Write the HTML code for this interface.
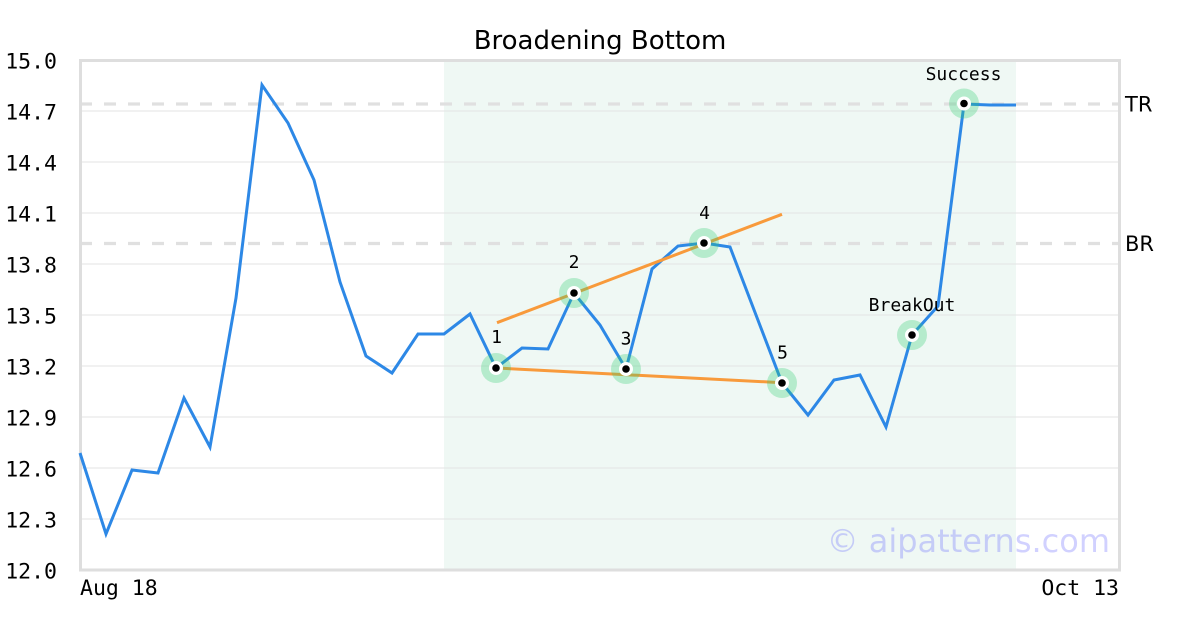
<!DOCTYPE html>
<html><head><meta charset="utf-8"><style>
html,body{margin:0;padding:0;background:#fff;}
svg{display:block;}
</style></head><body>
<svg width="1200" height="630" viewBox="0 0 1200 630" xmlns="http://www.w3.org/2000/svg">
<rect x="0" y="0" width="1200" height="630" fill="#fff"/>
<rect x="444" y="60" width="572" height="510" fill="#eff8f4"/>
<g stroke="#e3e3e3" stroke-width="1">
<line x1="80" y1="111" x2="1120" y2="111"/>
<line x1="80" y1="162" x2="1120" y2="162"/>
<line x1="80" y1="213" x2="1120" y2="213"/>
<line x1="80" y1="264" x2="1120" y2="264"/>
<line x1="80" y1="315" x2="1120" y2="315"/>
<line x1="80" y1="366" x2="1120" y2="366"/>
<line x1="80" y1="417" x2="1120" y2="417"/>
<line x1="80" y1="468" x2="1120" y2="468"/>
<line x1="80" y1="519" x2="1120" y2="519"/>
</g>
<g stroke="#e0e0e0" stroke-width="3.3" stroke-dasharray="12 12">
<line x1="80" y1="104" x2="1120" y2="104"/>
<line x1="80" y1="243.5" x2="1120" y2="243.5"/>
</g>
<rect x="80.5" y="60.5" width="1039" height="509.5" fill="none" stroke="#dedede" stroke-width="3"/>
<polyline fill="none" stroke="#2d88e6" stroke-width="3" stroke-linejoin="miter" points="80,453 106,534 132,470 158,473 184,398 210,447 236,298 262,85 288,123 314,180 340,282 366,356 392,373 418,334 444,334 470,314 496,368 522,348 548,349 574,293 600,325 626,369 652,269 678,246 704,243 730,247 756,315 782,383 808,415 834,380 860,375 886,427 912,335 938,306 964,104 990,105 1016,105"/>
<g stroke="#f89a3b" stroke-width="3" fill="none">
<line x1="497" y1="322.7" x2="782" y2="214.3"/>
<line x1="496" y1="368" x2="782" y2="382.7"/>
</g>
<g>
<g fill="rgba(46,204,113,0.3)">
<circle cx="496" cy="368" r="15"/>
<circle cx="574" cy="293" r="15"/>
<circle cx="626" cy="369" r="15"/>
<circle cx="704" cy="243" r="15"/>
<circle cx="782" cy="383" r="15"/>
<circle cx="912" cy="335" r="15"/>
<circle cx="964" cy="103.5" r="15"/>
</g>
<g fill="#fff">
<circle cx="496" cy="368" r="7"/>
<circle cx="574" cy="293" r="7"/>
<circle cx="626" cy="369" r="7"/>
<circle cx="704" cy="243" r="7"/>
<circle cx="782" cy="383" r="7"/>
<circle cx="912" cy="335" r="7"/>
<circle cx="964" cy="103.5" r="7"/>
</g>
<g fill="#000">
<circle cx="496" cy="368" r="3.8"/>
<circle cx="574" cy="293" r="3.8"/>
<circle cx="626" cy="369" r="3.8"/>
<circle cx="704" cy="243" r="3.8"/>
<circle cx="782" cy="383" r="3.8"/>
<circle cx="912" cy="335" r="3.8"/>
<circle cx="964" cy="103.5" r="3.8"/>
</g>
</g>
<g font-family="'DejaVu Sans Mono','Liberation Mono',monospace" font-size="18" fill="#000" text-anchor="middle">
<text x="496.5" y="343">1</text>
<text x="574" y="268">2</text>
<text x="626" y="344.5">3</text>
<text x="704.5" y="219">4</text>
<text x="782.5" y="358.5">5</text>
<text x="912" y="311">BreakOut</text>
<text x="963.5" y="80">Success</text>
</g>
<g font-family="'DejaVu Sans Mono','Liberation Mono',monospace" font-size="21.5" fill="#000" text-anchor="end">
<text x="57" y="68.5">15.0</text>
<text x="57" y="119.5">14.7</text>
<text x="57" y="170.5">14.4</text>
<text x="57" y="221.5">14.1</text>
<text x="57" y="272.5">13.8</text>
<text x="57" y="323.5">13.5</text>
<text x="57" y="374.5">13.2</text>
<text x="57" y="425.5">12.9</text>
<text x="57" y="476.5">12.6</text>
<text x="57" y="527.5">12.3</text>
<text x="57" y="578.5">12.0</text>
</g>
<g font-family="'DejaVu Sans Mono','Liberation Mono',monospace" font-size="21.5" fill="#000">
<text x="80" y="595">Aug 18</text>
<text x="1119" y="595" text-anchor="end">Oct 13</text>
</g>
<g font-family="'DejaVu Sans','Liberation Sans',sans-serif" font-size="21" fill="#000">
<text x="1125" y="111.5">TR</text>
<text x="1125" y="251">BR</text>
</g>
<text x="600" y="49" text-anchor="middle" font-family="'DejaVu Sans','Liberation Sans',sans-serif" font-size="26" fill="#000">Broadening Bottom</text>
<text x="1110" y="552" text-anchor="end" font-family="'DejaVu Sans','Liberation Sans',sans-serif" font-size="32" fill="rgba(90,90,255,0.28)">© aipatterns.com</text>
</svg>
</body></html>
